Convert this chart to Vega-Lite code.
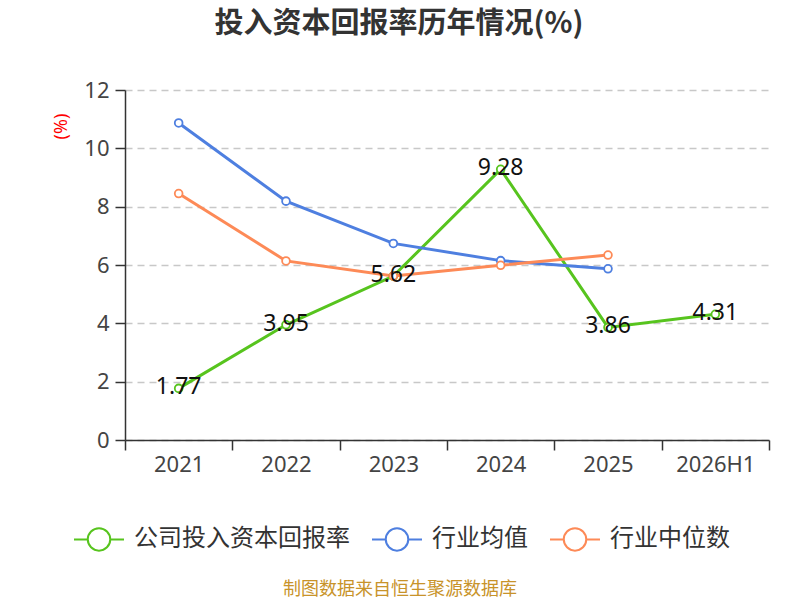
{
  "$schema": "https://vega.github.io/schema/vega-lite/v6.json",
  "autosize": "none",
  "width": 644,
  "height": 350,
  "padding": {"left": 125, "top": 90, "right": 31, "bottom": 160},
  "background": "white",
  "title": {
    "text": "投入资本回报率历年情况(%)",
    "fontSize": 29,
    "fontWeight": "bold",
    "font": "Noto Sans CJK SC",
    "color": "#333333",
    "anchor": "middle",
    "dx": -48,
    "offset": 40
  },
  "data": {
    "values": [
      {"year": "2021", "series": "公司投入资本回报率", "value": 1.77},
      {"year": "2022", "series": "公司投入资本回报率", "value": 3.95},
      {"year": "2023", "series": "公司投入资本回报率", "value": 5.62},
      {"year": "2024", "series": "公司投入资本回报率", "value": 9.28},
      {"year": "2025", "series": "公司投入资本回报率", "value": 3.86},
      {"year": "2026H1", "series": "公司投入资本回报率", "value": 4.31},
      {"year": "2021", "series": "行业均值", "value": 10.87},
      {"year": "2022", "series": "行业均值", "value": 8.19},
      {"year": "2023", "series": "行业均值", "value": 6.74},
      {"year": "2024", "series": "行业均值", "value": 6.15},
      {"year": "2025", "series": "行业均值", "value": 5.87},
      {"year": "2021", "series": "行业中位数", "value": 8.45},
      {"year": "2022", "series": "行业中位数", "value": 6.14},
      {"year": "2023", "series": "行业中位数", "value": 5.62},
      {"year": "2024", "series": "行业中位数", "value": 5.99},
      {"year": "2025", "series": "行业中位数", "value": 6.34}
    ]
  },
  "config": {
    "view": {"stroke": null},
    "font": "Noto Sans CJK SC",
    "axis": {
      "labelFont": "Noto Sans",
      "labelFontSize": 22,
      "labelColor": "#444444",
      "domainColor": "#333333",
      "domainWidth": 1.5,
      "tickColor": "#333333",
      "tickWidth": 1.5,
      "tickSize": 10
    }
  },
  "encoding": {
    "x": {
      "field": "year",
      "type": "ordinal",
      "sort": ["2021", "2022", "2023", "2024", "2025", "2026H1"],
      "scale": {"domain": ["2021", "2022", "2023", "2024", "2025", "2026H1"], "paddingInner": 0, "paddingOuter": 0},
      "axis": {"title": null, "labelAngle": 0, "tickBand": "extent", "labelPadding": 4, "grid": false}
    },
    "y": {
      "field": "value",
      "type": "quantitative",
      "scale": {"domain": [0, 12]},
      "axis": {
        "values": [0, 2, 4, 6, 8, 10, 12],
        "title": "(%)",
        "titleColor": "#ff0000",
        "titleFont": "Noto Sans",
        "titleFontSize": 18,
        "titleFontWeight": "normal",
        "titleAngle": -90,
        "titleX": -55,
        "titleY": 36,
        "titleAlign": "center",
        "grid": true,
        "gridDash": [7, 5],
        "gridColor": "#c8c8c8",
        "gridWidth": 1.5,
        "labelPadding": 6
      }
    },
    "color": {
      "field": "series",
      "type": "nominal",
      "sort": ["公司投入资本回报率", "行业均值", "行业中位数"],
      "scale": {"domain": ["公司投入资本回报率", "行业均值", "行业中位数"], "range": ["#57c41e", "#4e7fe0", "#fd8a57"]},
      "legend": {
        "title": null,
        "orient": "none",
        "direction": "horizontal",
        "legendX": -52,
        "legendY": 423,
        "labelFont": "Noto Sans CJK SC",
        "labelFontSize": 24,
        "labelColor": "#333333",
        "labelLimit": 400,
        "labelOffset": 9,
        "columnPadding": 18,
        "symbolType": "M-1,0H-0.45M0.45,0H1M0.45,0A0.45,0.45,0,1,1,-0.45,0A0.45,0.45,0,1,1,0.45,0",
        "symbolSize": 2500,
        "symbolStrokeWidth": 2,
        "symbolFillColor": "white"
      }
    }
  },
  "layer": [
    {
      "mark": {"type": "line", "strokeWidth": 3},
      "encoding": {}
    },
    {
      "mark": {"type": "point", "filled": false, "fill": "white", "fillOpacity": 1, "size": 60, "strokeWidth": 1.8, "opacity": 1},
      "encoding": {}
    },
    {
      "transform": [{"filter": "datum.series === '公司投入资本回报率'"}],
      "mark": {"type": "text", "fontSize": 23, "font": "Noto Sans", "baseline": "middle", "align": "center", "dy": -1},
      "encoding": {
        "text": {"field": "value", "type": "quantitative", "format": ".2f"},
        "color": {"value": "#111111"}
      }
    },
    {
      "data": {"values": [{"note": "制图数据来自恒生聚源数据库"}]},
      "mark": {"type": "text", "fontSize": 18, "font": "Noto Sans CJK SC", "align": "center", "baseline": "middle"},
      "encoding": {"text": {"field": "note", "type": "nominal"}, "x": {"value": 275}, "y": {"value": 500}, "color": {"value": "#c8932a"}}
    }
  ]
}
